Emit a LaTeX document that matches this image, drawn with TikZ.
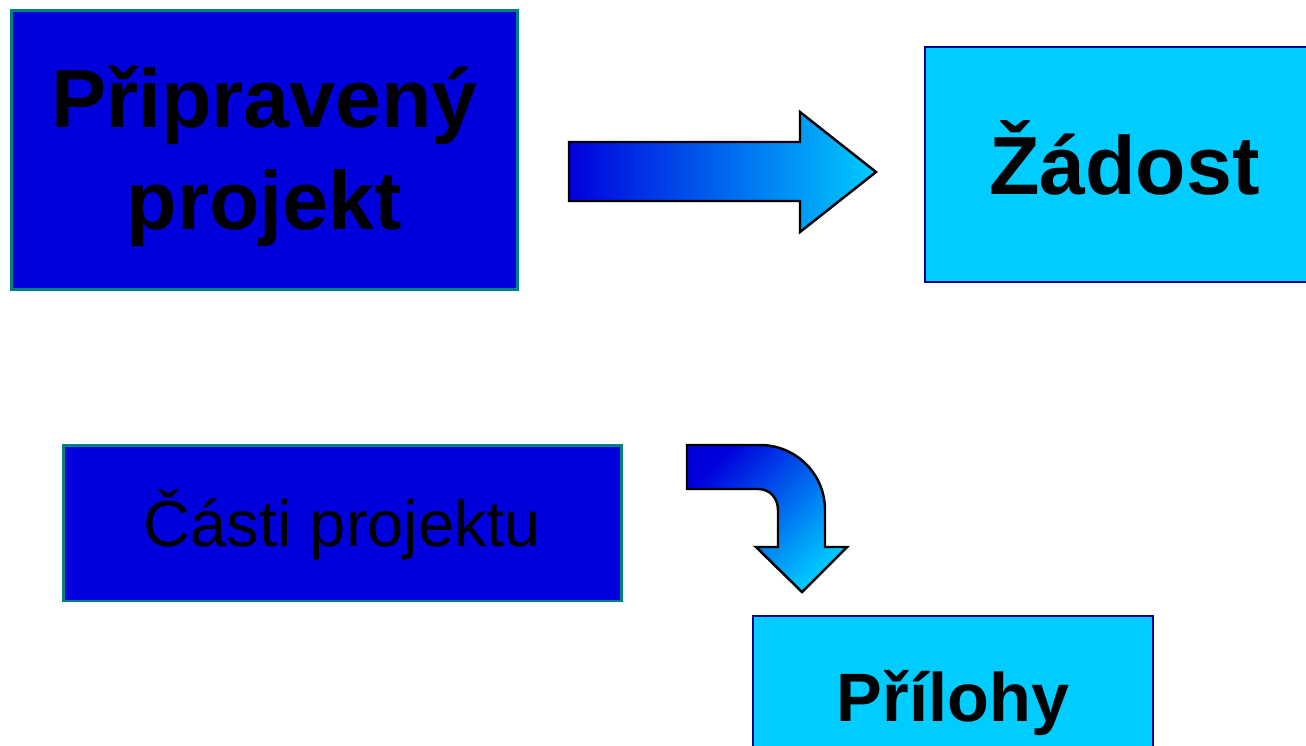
\documentclass[tikz,border=0pt]{standalone}
\usepackage{fontspec}
\setmainfont{Liberation Sans}
\usepackage{xcolor}
\usepackage{tikz}
\definecolor{boxblue}{RGB}{0,0,221}
\definecolor{boxcyan}{RGB}{0,204,255}
\definecolor{edgeteal}{RGB}{0,128,128}
\definecolor{edgenavy}{RGB}{0,0,136}

\begin{document}
\begin{tikzpicture}[x=0.02cm, y=-0.02cm]
        \tikzset{
            dark_box/.style={draw=edgeteal, fill=boxblue, line width=1.7pt, shape = rectangle, inner sep=0pt, align=center},
            light_box/.style={draw=edgenavy, fill=boxcyan, line width=1.4pt, shape = rectangle, inner sep=0pt, align=center},
            block_arrow/.style={draw=black, line width=1.4pt, line join=miter}
        }
        \useasboundingbox (0,0) rectangle (1306,745);
        \node[dark_box, minimum width=10.14cm, minimum height=5.6cm] (A) at (264.5,150) {};
        \node[align=center, inner sep=0pt, font=\fontsize{47}{58}\selectfont\bfseries] (A_text) at ([yshift=-0.12cm]A.center) {Připravený\\ projekt};
        \node[light_box, minimum width=7.98cm, minimum height=4.7cm, text height=34pt, text depth=0pt, font=\fontsize{47}{57}\selectfont\bfseries] (B) at (1124.5,164.5) {Žádost};
        \node[dark_box, minimum width=11.18cm, minimum height=3.12cm, text height=26.6pt, text depth=0pt, font=\fontsize{37}{44}\selectfont] (C) at (342.5,523) {Části projektu};
        \node[light_box, minimum width=8cm, minimum height=3.24cm, text height=28pt, text depth=0pt, font=\fontsize{39}{47}\selectfont\bfseries] (D) at (953,697) {Přílohy};
        \path[block_arrow, left color=boxblue, right color=boxcyan] (569,142) -- (800,142) -- (800,112) -- (876,172) -- (800,232) -- (800,201) -- (569,201) -- cycle;
        \path[block_arrow, top color=boxblue, bottom color=boxcyan, shading angle=45] (687,445) -- (760,445) .. controls (796,445) and (825,474) .. (825,510) -- (825,547) -- (847,547) -- (802,592) -- (756,547) -- (778,547) -- (778,510) .. controls (778,498) and (770,489) .. (758,489) -- (687,489) -- cycle;
    \end{tikzpicture}
\end{document}
